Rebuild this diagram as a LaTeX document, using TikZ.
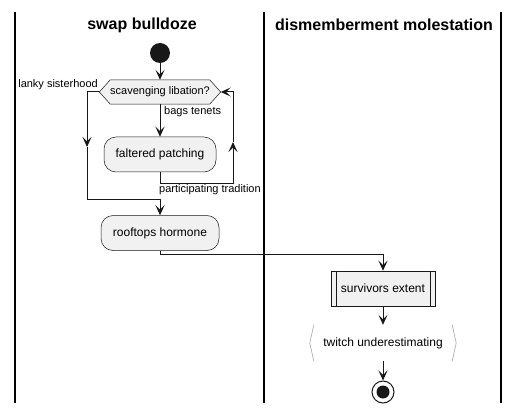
\documentclass[tikz,border=0pt]{standalone}
\usepackage{fontspec}
\setmainfont{Liberation Sans}
\usetikzlibrary{arrows.meta,backgrounds}
\definecolor{ln}{HTML}{181818}
\definecolor{bx}{HTML}{F1F1F1}
\begin{document}
\begin{tikzpicture}[x=1pt,y=-1pt,
 conn/.style={draw=ln, line width=1pt},
 arr/.style={conn,-{Stealth[length=10pt,width=9pt,inset=4.5pt]}},
 lane/.style={draw=black,line width=1.3pt},
 title/.style={font=\fontsize{16}{19}\selectfont\bfseries, inner sep=0},
 txt/.style={font=\fontsize{12}{14}\selectfont},
 act/.style={txt, draw=ln, line width=0.5pt, fill=bx, rounded corners=12pt, inner sep=0, minimum height=35pt},
 lbl/.style={font=\fontsize{11}{13}\selectfont, inner sep=0},
 ]
\useasboundingbox (0,0) rectangle (519,414);
% lanes
\draw[lane] (15,12) -- (15,403);
\draw[lane] (264,12) -- (264,403);
\draw[lane] (501,12) -- (501,403);
\node[title] (t1) at (142,25) {swap bulldoze};
\node[title] (t2) at (384,25) {dismemberment molestation};
% nodes
\node[circle, fill=ln, minimum size=20pt, inner sep=0] (start) at (160,53) {};
\node[lbl, minimum width=121pt, minimum height=24pt, inner sep=0] (dec) at (160,92) {scavenging libation?};
\begin{pgfonlayer}{background}
\draw[draw=ln, line width=0.5pt, fill=bx] (dec.west) -- ([xshift=11pt]dec.north west) -- ([xshift=-11pt]dec.north east) -- (dec.east) -- ([xshift=-11pt]dec.south east) -- ([xshift=11pt]dec.south west) -- cycle;
\end{pgfonlayer}
\node[act, minimum width=112pt] (fp) at (160,154.5) {faltered patching};
\node[act, minimum width=118pt] (rh) at (160,233) {rooftops hormone};
\node[txt, draw=ln, line width=0.5pt, fill=bx, minimum width=104pt, minimum height=35pt, inner sep=0] (se) at (383,288.5) {survivors extent};
\draw[draw=ln, line width=0.5pt] ([xshift=5pt]se.north west) -- ([xshift=5pt]se.south west);
\draw[draw=ln, line width=0.5pt] ([xshift=-5pt]se.north east) -- ([xshift=-5pt]se.south east);
\node[txt, minimum width=146pt, minimum height=36pt, inner sep=0] (tw) at (383,343) {twitch underestimating};
\draw[draw=gray!70, line width=0.6pt] ([xshift=4pt]tw.north west) -- (tw.west) -- ([xshift=4pt]tw.south west);
\draw[draw=gray!70, line width=0.6pt] ([xshift=-4pt]tw.north east) -- (tw.east) -- ([xshift=-4pt]tw.south east);
\node[circle, draw=ln, line width=1pt, minimum size=22pt, inner sep=0] (end) at (383,392) {};
\node[circle, fill=ln, minimum size=13pt, inner sep=0] (endin) at (end) {};
% coordinates
\coordinate (lA) at (87,147);
\coordinate (lJ) at (160,200);
\coordinate (rA) at (233,142);
% connectors
\draw[arr] (start.south) -- (dec.north);
\draw[arr] (dec.west) -| (lA);
\draw[arr] (lA) |- (lJ) -- (rh.north);
\draw[arr] (dec.south) -- (fp.north);
\draw[arr] (fp.south) -- ++(0,11) -| (rA);
\draw[arr] (rA) |- (dec.east);
\draw[arr] (rh.south) -- ++(0,4) -| (se.north);
\draw[arr] (se.south) -- (tw.north);
\draw[arr] (tw.south) -- (end.north);
% labels
\node[lbl, anchor=east] (l1) at (98,85) {lanky sisterhood};
\node[lbl, anchor=west] (l2) at (164,112) {bags tenets};
\node[lbl, anchor=west] (l3) at (159,190) {participating tradition};
\end{tikzpicture}
\end{document}
